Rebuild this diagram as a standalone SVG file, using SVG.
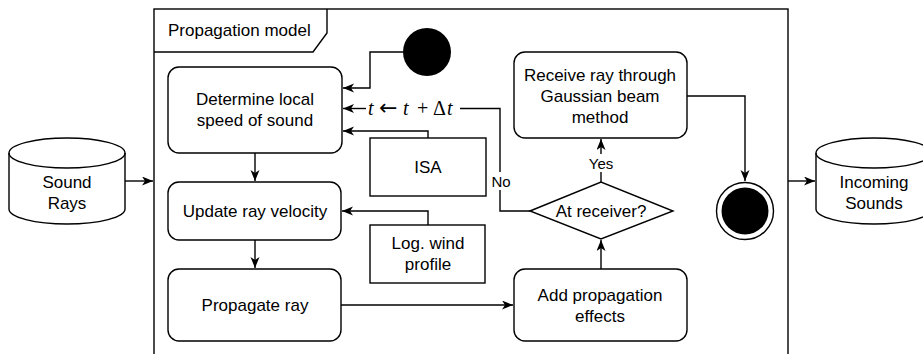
<svg xmlns="http://www.w3.org/2000/svg" width="923" height="354" viewBox="0 0 923 354">
  <style>
    .shape { fill: #ffffff; stroke: #000000; stroke-width: 1.4; }
    .line { fill: none; stroke: #000000; stroke-width: 1.4; }
    .lbl { font-family: "Liberation Sans", Arial, sans-serif; font-size: 17px; fill: #000000; text-anchor: middle; dominant-baseline: central; }
    .small { font-size: 15px; }
    .math { font-family: "Liberation Serif", "DejaVu Serif", serif; font-size: 20px; fill: #000000; }
    .mi { font-style: italic; }
    .sym { font-family: "DejaVu Sans", sans-serif; font-size: 22px; }
  </style>
  <defs>
    <marker id="arrow" markerUnits="userSpaceOnUse" markerWidth="12" markerHeight="10" refX="11" refY="4.5" orient="auto">
      <path d="M0,0 L11,4.5 L0,9 L3,4.5 z" fill="#000000"/>
    </marker>
  </defs>

  <rect width="923" height="354" fill="#ffffff"/>

  <!-- activity frame -->
  <g id="frame">
    <rect class="shape" x="154" y="9" width="634" height="400"/>
    <path class="line" d="M154,52 H313 L327,33 V9"/>
    <text class="lbl" x="168" y="30" style="text-anchor:start">Propagation model</text>
  </g>

  <!-- connectors -->
  <g id="connectors">
    <path class="line" d="M125,181 H153" marker-end="url(#arrow)"/>
    <path class="line" d="M403,52 H370 V88 H343" marker-end="url(#arrow)"/>
    <path class="line" d="M460,108.5 H500 V211 H530"/>
    <path class="line" d="M366,108.5 H343" marker-end="url(#arrow)"/>
    <path class="line" d="M428,138 V131 H343" marker-end="url(#arrow)"/>
    <path class="line" d="M255,153 V181" marker-end="url(#arrow)"/>
    <path class="line" d="M428,225 V211 H342" marker-end="url(#arrow)"/>
    <path class="line" d="M255,240 V268" marker-end="url(#arrow)"/>
    <path class="line" d="M341,305 H513" marker-end="url(#arrow)"/>
    <path class="line" d="M601,269 V240" marker-end="url(#arrow)"/>
    <path class="line" d="M601,182 V139" marker-end="url(#arrow)"/>
    <path class="line" d="M687,96 H745 V181" marker-end="url(#arrow)"/>
    <path class="line" d="M788,181 H815" marker-end="url(#arrow)"/>
    <!-- edge labels -->
    <text class="math" y="115"><tspan class="mi" x="368">t</tspan><tspan class="sym" x="379">←</tspan><tspan class="mi" x="403">t</tspan><tspan x="417">+</tspan><tspan x="433">Δ</tspan><tspan class="mi" x="447">t</tspan></text>
    <rect x="490" y="172" width="22" height="18" fill="#ffffff"/>
    <text class="lbl small" x="501" y="181">No</text>
    <rect x="588" y="154" width="27" height="18" fill="#ffffff"/>
    <text class="lbl small" x="601" y="163">Yes</text>
  </g>

  <g id="sound-rays">
    <path class="shape" d="M9,153 V209 A58,15 0 0 0 125,209 V153 A58,15 0 0 0 9,153 Z"/>
    <path class="line" d="M9,153 A58,15 0 0 0 125,153"/>
    <text class="lbl" x="67" y="182">Sound</text>
    <text class="lbl" x="67" y="203">Rays</text>
  </g>

  <g id="start">
    <circle cx="427" cy="52" r="24" fill="#000000"/>
  </g>

  <g id="determine-speed">
    <rect class="shape" x="168" y="67" width="174" height="86" rx="11"/>
    <text class="lbl" x="255" y="99">Determine local</text>
    <text class="lbl" x="255" y="120">speed of sound</text>
  </g>

  <g id="isa">
    <rect class="shape" x="370" y="138" width="116" height="58"/>
    <text class="lbl" x="428" y="167">ISA</text>
  </g>

  <g id="update-velocity">
    <rect class="shape" x="168" y="182" width="173" height="58" rx="11"/>
    <text class="lbl" x="255" y="211">Update ray velocity</text>
  </g>

  <g id="wind-profile">
    <rect class="shape" x="370" y="225" width="115" height="58"/>
    <text class="lbl" x="428" y="243">Log. wind</text>
    <text class="lbl" x="428" y="264">profile</text>
  </g>

  <g id="propagate-ray">
    <rect class="shape" x="168" y="269" width="173" height="72" rx="11"/>
    <text class="lbl" x="255" y="305">Propagate ray</text>
  </g>

  <g id="propagation-effects">
    <rect class="shape" x="514" y="269" width="173" height="72" rx="11"/>
    <text class="lbl" x="600" y="295">Add propagation</text>
    <text class="lbl" x="600" y="316">effects</text>
  </g>

  <g id="at-receiver">
    <path class="shape" d="M530,211 L601,182 L673,211 L601,239 Z"/>
    <text class="lbl" x="601" y="211">At receiver?</text>
  </g>

  <g id="receive-ray">
    <rect class="shape" x="514" y="52" width="173" height="86" rx="11"/>
    <text class="lbl" x="600" y="75">Receive ray through</text>
    <text class="lbl" x="600" y="96">Gaussian beam</text>
    <text class="lbl" x="600" y="117">method</text>
  </g>

  <g id="end">
    <circle class="shape" cx="745" cy="211" r="28.5"/>
    <circle cx="745" cy="211" r="23.5" fill="#000000"/>
  </g>

  <g id="incoming-sounds">
    <path class="shape" d="M816,153 V209 A58,15 0 0 0 932,209 V153 A58,15 0 0 0 816,153 Z"/>
    <path class="line" d="M816,153 A58,15 0 0 0 932,153"/>
    <text class="lbl" x="874" y="182">Incoming</text>
    <text class="lbl" x="874" y="203">Sounds</text>
  </g>
</svg>
